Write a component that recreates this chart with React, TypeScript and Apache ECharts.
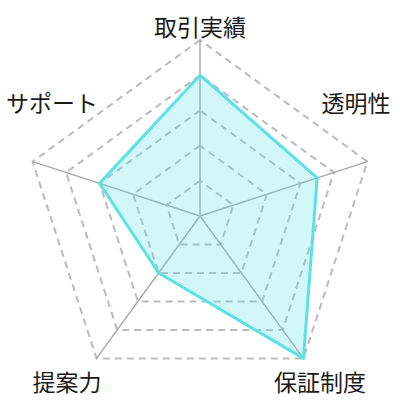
import { useEffect, useRef } from 'react'
import * as echarts from 'echarts'

// ECharts lays indicators out counter-clockwise from the top
const indicators = ['取引実績', 'サポート', '提案力', '保証制度', '透明性']
const scores = [80, 60, 40, 100, 70]
const maxScore = 100

// label centres (the reference sets its names off the axis ends)
const labelPos: [number, number][] = [
  [200, 26],
  [52, 102],
  [67, 381],
  [320, 381],
  [356, 102],
]

export default function App() {
  const chartRef = useRef<HTMLDivElement>(null)

  useEffect(() => {
    if (!chartRef.current) return
    const chart = echarts.init(chartRef.current, undefined, { renderer: 'svg' })

    const option: echarts.EChartsOption = {
      animation: false,
      radar: {
        center: [200, 216],
        radius: 176,
        startAngle: 90,
        shape: 'polygon',
        splitNumber: 5,
        indicator: indicators.map(name => ({ name, max: maxScore, min: 0 })),
        axisName: { show: false },
        axisLine: { lineStyle: { color: '#aaaaaa', width: 1.5 } },
        splitLine: { lineStyle: { color: '#bbbbbb', width: 2, type: [7, 5] } },
        splitArea: { show: false },
      },
      series: [
        {
          type: 'radar',
          symbol: 'none',
          data: [
            {
              value: scores,
              lineStyle: { color: '#5ee1e6', width: 3 },
              areaStyle: { color: 'rgba(94, 225, 230, 0.4)' },
            },
          ],
        },
      ],
      graphic: indicators.map((name, i) => ({
        type: 'text',
        x: labelPos[i][0],
        y: labelPos[i][1],
        style: {
          text: name,
          fill: '#1a1a1a',
          fontSize: 23,
          fontFamily: '"Noto Sans CJK JP", sans-serif',
          align: 'center',
          verticalAlign: 'middle',
        },
      })),
    }

    chart.setOption(option)
    return () => chart.dispose()
  }, [])

  return (
    <div
      ref={chartRef}
      style={{ position: 'fixed', left: 0, top: 0, width: 400, height: 400, background: '#fff' }}
    />
  )
}
